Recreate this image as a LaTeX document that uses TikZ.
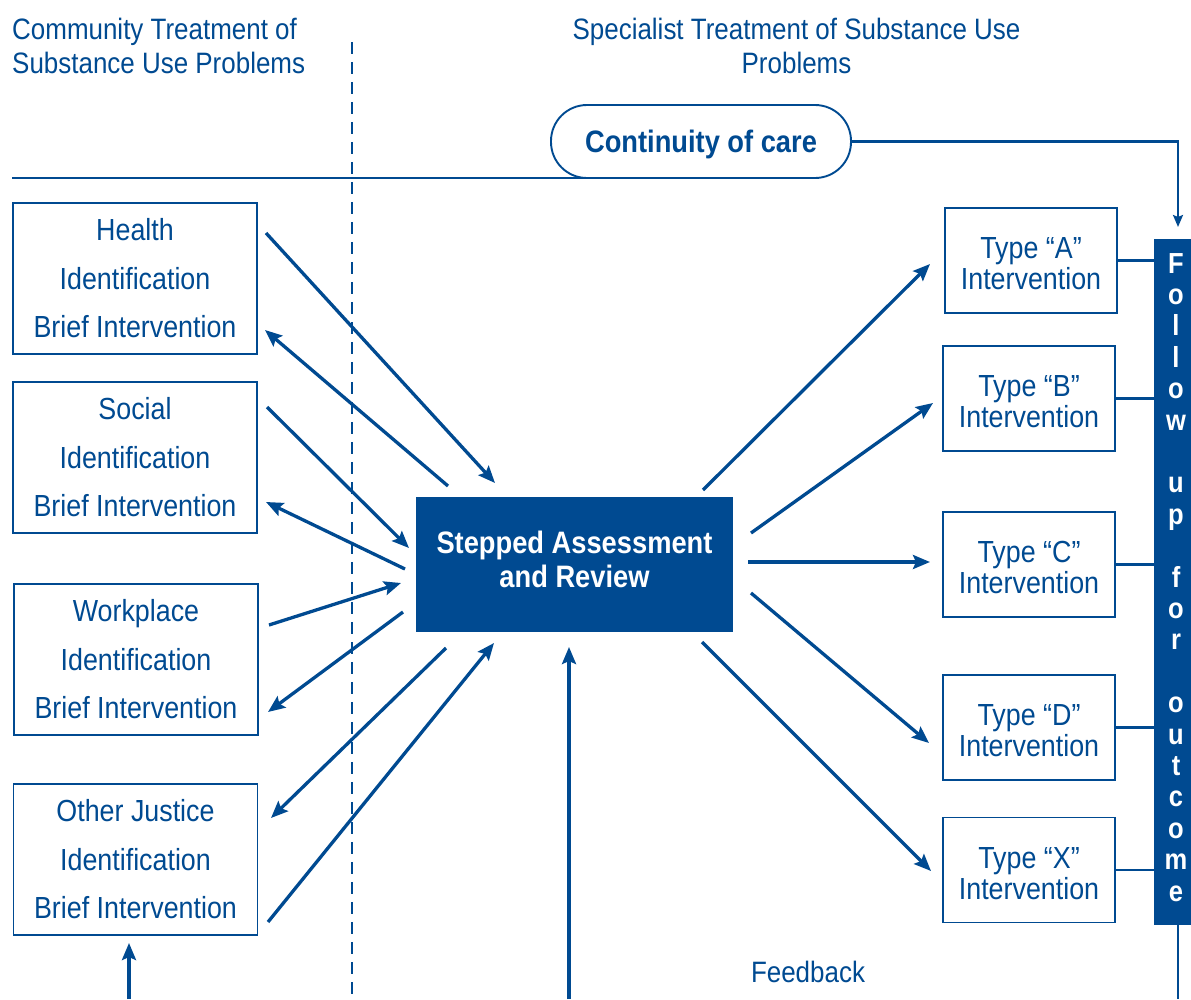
\documentclass[tikz,border=0pt]{standalone}
\usepackage{fontspec}
\setmainfont[FakeStretch=0.88]{Liberation Sans}
\usetikzlibrary{arrows.meta,calc}
\definecolor{nblue}{RGB}{0,74,145}
\newcommand{\toppad}{\rule{0pt}{28pt}}
\tikzset{
  lbox/.style={draw=nblue,line width=1.9pt,align=center,text=nblue,inner sep=0pt,
    font=\fontsize{30.5}{48.5}\selectfont,minimum width=244pt,minimum height=151pt},
  tbox/.style={draw=nblue,line width=1.9pt,align=center,text=nblue,inner sep=0pt,
    font=\fontsize{30.5}{31}\selectfont,minimum width=172pt,minimum height=105pt},
  arr/.style={draw=nblue,line width=3.3pt,-{Stealth[length=17pt,width=14pt,inset=3pt]}},
  slimline/.style={draw=nblue,line width=2.2pt},
  heading/.style={text=nblue,inner sep=0pt,font=\fontsize{29.5}{34}\selectfont},
}
\begin{document}
\begin{tikzpicture}[x=1pt,y=-1pt]
\useasboundingbox (0,0) rectangle (1191,999);

% headings
\node[heading,align=left,anchor=north west] (hleft) at (12,17.5) {Community Treatment of\\Substance Use Problems};
\node[heading,align=center,anchor=north] (hright) at (796.5,17.5) {Specialist Treatment of Substance Use\\Problems};

% dashed divider
\coordinate (dtop) at (352,42);
\coordinate (dbot) at (352,999);
\draw[draw=nblue,line width=1.8pt,dash pattern=on 12pt off 8pt] (dtop) -- (dbot);

% continuity of care
\node[draw=nblue,line width=1.9pt,rounded corners=36pt,minimum width=300pt,minimum height=73pt,
  text=nblue,inner sep=0pt,text depth=0pt,font=\bfseries\fontsize{31}{32}\selectfont] (cont) at (701,141.5) {Continuity of care};
\coordinate (hl) at (12,178);
\draw[slimline] (hl) -- (hl -| cont.south);

% follow up bar
\node[fill=nblue,minimum width=37pt,minimum height=686pt,inner sep=0pt] (bar) at (1172.5,582) {};
\node[text=white,align=center,anchor=north,inner sep=0pt,font=\bfseries\fontsize{29}{31.4}\selectfont] (bartext) at (1176,253)
  {F\\o\\l\\l\\o\\w\\~\\u\\p\\~\\f\\o\\r\\~\\o\\u\\t\\c\\o\\m\\e};
\coordinate (ctip) at (1178,227);
\coordinate (bend) at (1178,999);
\draw[slimline,-{Stealth[length=12pt,width=10pt,inset=2pt]}] (cont.east) -| (ctip);
\draw[slimline] (bend |- bar.south) -- (bend);

% left boxes
\node[lbox] (health) at (135,278.5) {Health\\Identification\\Brief Intervention};
\node[lbox] (social) at (135,457.5) {Social\\Identification\\Brief Intervention};
\node[lbox] (work) at (136,659.5) {Workplace\\Identification\\Brief Intervention};
\node[lbox] (justice) at (135.5,859.5) {Other Justice\\Identification\\Brief Intervention};

% central box
\node[fill=nblue,minimum width=317pt,minimum height=135pt,inner sep=0pt,align=center,text=white,
  text depth=10pt,font=\bfseries\fontsize{31}{34}\selectfont] (sar) at (574.5,564.5) {Stepped Assessment\\and Review};

% type boxes
\node[tbox] (ta) at (1031,260.5) {\toppad Type “A”\\Intervention};
\node[tbox] (tb) at (1029,398.5) {\toppad Type “B”\\Intervention};
\node[tbox] (tc) at (1029,564.5) {\toppad Type “C”\\Intervention};
\node[tbox] (td) at (1029,727.5) {\toppad Type “D”\\Intervention};
\node[tbox] (tx) at (1029,870) {\toppad Type “X”\\Intervention};
\foreach \t in {ta,tb,tc,td,tx} { \draw[slimline] (\t.east) -- (\t.east -| bar.west); }

% feedback label
\node[text=nblue,inner sep=0pt,font=\fontsize{29.5}{34}\selectfont] (fb) at (808,972) {Feedback};

% arrow end points
\coordinate (hin1) at (266,233);   \coordinate (hin2) at (495,483);
\coordinate (hout1) at (448,486);  \coordinate (hout2) at (265,330);
\coordinate (sin1) at (267,407);   \coordinate (sin2) at (409,548);
\coordinate (sout1) at (405,569);  \coordinate (sout2) at (266,502);
\coordinate (win1) at (269,625);   \coordinate (win2) at (401,583);
\coordinate (wout1) at (403,612);  \coordinate (wout2) at (268,712);
\coordinate (oout1) at (446,648);  \coordinate (oout2) at (271,818);
\coordinate (oin1) at (268,922);   \coordinate (oin2) at (494,643);
\coordinate (ob1) at (129,999);    \coordinate (ob2) at (129,943);
\coordinate (fb1) at (569,999);    \coordinate (fb2) at (569,647);
\coordinate (a1) at (703,490);     \coordinate (a2) at (930,264);
\coordinate (b1) at (751,533);     \coordinate (b2) at (933,403);
\coordinate (c1) at (748,562);     \coordinate (c2) at (930,562);
\coordinate (d1) at (751,593);     \coordinate (d2) at (929,743);
\coordinate (x1) at (702,642);     \coordinate (x2) at (931,871);

\draw[arr] (hin1) -- (hin2);
\draw[arr] (hout1) -- (hout2);
\draw[arr] (sin1) -- (sin2);
\draw[arr] (sout1) -- (sout2);
\draw[arr] (win1) -- (win2);
\draw[arr] (wout1) -- (wout2);
\draw[arr] (oout1) -- (oout2);
\draw[arr] (oin1) -- (oin2);
\draw[arr] (ob1) -- (ob2);
\draw[arr] (fb1) -- (fb2);
\draw[arr] (a1) -- (a2);
\draw[arr] (b1) -- (b2);
\draw[arr] (c1) -- (c2);
\draw[arr] (d1) -- (d2);
\draw[arr] (x1) -- (x2);
\end{tikzpicture}
\end{document}
